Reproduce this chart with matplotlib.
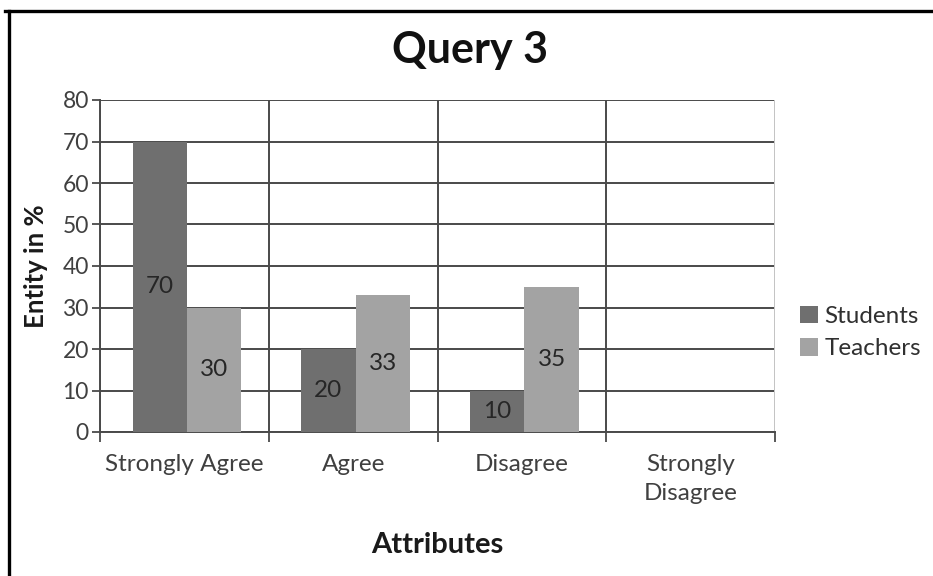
import matplotlib.pyplot as plt
import numpy as np
from matplotlib.lines import Line2D

plt.rcParams['font.family'] = ['Lato', 'DejaVu Sans']

categories = ["Strongly Agree", "Agree", "Disagree", "Strongly\nDisagree"]
students = [70, 20, 10, 0]
teachers = [30, 33, 35, 0]
yticks = [0, 10, 20, 30, 40, 50, 60, 70, 80]

c_students = '#6f6f6f'
c_teachers = '#a3a3a3'
grid_c = '#4a4a4a'

fig = plt.figure(figsize=(9.33, 5.76), dpi=100)
ax = fig.add_axes([100/933, 1-432/576, 675/933, 332/576])

x = np.arange(len(categories))
w = 0.322
off = 0.015
b1 = ax.bar(x - w/2 + off, students, w, color=c_students, label='Students', zorder=3)
b2 = ax.bar(x + w/2 + off, teachers, w, color=c_teachers, label='Teachers', zorder=3)

# value labels sit in the middle of each bar
for bars, vals in ((b1, students), (b2, teachers)):
    for r, v in zip(bars, vals):
        if v > 0:
            ax.text(r.get_x() + r.get_width()/2, v/2, str(v), ha='center', va='center',
                    fontsize=17.5, color='#262626', zorder=4)

ax.set_xlim(-0.5, len(categories) - 0.5)
ax.set_ylim(0, 80)
ax.set_yticks(yticks)
ax.set_xticks(x)
ax.set_xticklabels(categories, fontsize=17.5, color='#404040', linespacing=1.45)
ax.set_xticks(np.arange(-0.5, len(categories)), minor=True)
ax.tick_params(axis='x', which='major', length=0, pad=16)
ax.tick_params(axis='x', which='minor', length=7, width=1.3, color=grid_c, direction='out')
ax.tick_params(axis='y', length=6, width=1.3, color=grid_c, labelsize=16.5, labelcolor='#404040', pad=2)

ax.yaxis.grid(True, color=grid_c, lw=1.4, zorder=1)
ax.xaxis.grid(True, which='minor', color=grid_c, lw=1.4, zorder=1)

for s in ('top', 'right'):
    ax.spines[s].set_visible(False)
ax.spines['left'].set_color(grid_c)
ax.spines['left'].set_linewidth(1.4)
ax.spines['bottom'].set_color(grid_c)
ax.spines['bottom'].set_linewidth(1.4)
ax.axvline(len(categories) - 0.5, color='#c8c8c8', lw=1.4, zorder=2)

ax.set_ylabel('Entity in %', fontsize=18.5, fontweight='bold', color='#1a1a1a', labelpad=10)
ax.set_xlabel('Attributes', fontsize=21, fontweight='bold', color='#1a1a1a', labelpad=20)
fig.text(470/933, 1-50/576, 'Query 3', ha='center', va='center', fontsize=31,
         fontweight='bold', color='#111111')

ax.legend(loc='center left', bbox_to_anchor=(1.005, 0.3), frameon=False, fontsize=17.5,
          handlelength=0.75, handleheight=0.75, handletextpad=0.25, labelspacing=0.45,
          labelcolor='#303030')

# frame lines along the top and left edge
fig.add_artist(Line2D([5/933, 1.02], [1-10.5/576, 1-10.5/576], color='black', lw=2.4,
                      transform=fig.transFigure))
fig.add_artist(Line2D([9/933, 9/933], [-0.02, 1-10.5/576], color='black', lw=2.4,
                      transform=fig.transFigure))

fig.savefig('out.png', dpi=100)
